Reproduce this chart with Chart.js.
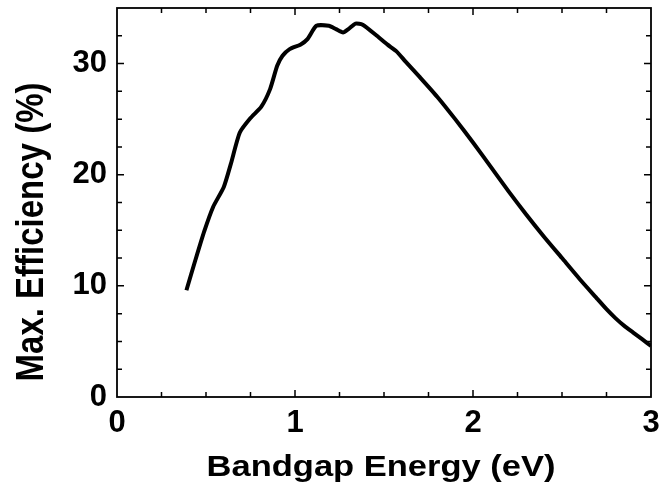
<!DOCTYPE html>
<html>
<head>
<meta charset="utf-8">
<script src="https://cdn.jsdelivr.net/npm/chart.js@4/dist/chart.umd.min.js"></script>
<style>
  html, body { margin: 0; padding: 0; background: #fff; }
  #wrap { width: 659px; height: 486px; }
</style>
</head>
<body>
<div id="wrap"><canvas id="myChart" width="659" height="486"></canvas></div>
<script>
// bandgap energy (eV) and max efficiency (%)
const energy = [0.39, 0.44, 0.49, 0.54, 0.60, 0.64, 0.69, 0.75, 0.81, 0.86, 0.90, 0.93, 0.97,
  1.03, 1.07, 1.12, 1.19, 1.23, 1.27, 1.30, 1.34, 1.38, 1.46, 1.52, 1.57, 1.62, 1.70, 1.80,
  1.90, 2.00, 2.10, 2.20, 2.30, 2.40, 2.50, 2.60, 2.70, 2.75, 2.80, 2.85, 2.90, 2.95, 3.00];
const efficiency = [9.6, 12.3, 14.9, 17.1, 18.9, 21.0, 23.8, 25.1, 26.1, 27.7, 29.8, 30.7, 31.3,
  31.7, 32.2, 33.4, 33.4, 33.1, 32.8, 33.1, 33.6, 33.5, 32.5, 31.7, 31.1, 30.2, 28.8, 27.0,
  25.0, 22.9, 20.7, 18.5, 16.4, 14.4, 12.5, 10.6, 8.8, 7.9, 7.1, 6.4, 5.8, 5.2, 4.6];

const xTicks = [0, 1, 2, 3];
const yTicks = [0, 10, 20, 30];
const xMinorStep = 0.25;
const yMinorStep = 2.5;
const xTitle = 'Bandgap Energy (eV)';
const yTitle = 'Max. Efficiency (%)';

const FONT = '"Liberation Sans", Arial, sans-serif';

// frame, inward ticks and axis titles
const framePlugin = {
  id: 'frame',
  afterDraw(chart) {
    const { ctx, chartArea: a, scales } = chart;
    const xs = scales.x, ys = scales.y;
    ctx.save();
    ctx.strokeStyle = '#000';
    ctx.lineWidth = 1.8;
    ctx.strokeRect(a.left, a.top, a.right - a.left, a.bottom - a.top);

    ctx.lineWidth = 1.5;
    ctx.beginPath();
    for (let v = xs.min; v <= xs.max + 1e-9; v += xMinorStep) {
      if (v <= xs.min + 1e-9 || v >= xs.max - 1e-9) continue;
      const len = Math.abs(v - Math.round(v)) < 1e-9 ? 7 : 5;
      const px = xs.getPixelForValue(v);
      ctx.moveTo(px, a.bottom); ctx.lineTo(px, a.bottom - len);
      ctx.moveTo(px, a.top); ctx.lineTo(px, a.top + len);
    }
    for (let v = ys.min; v <= ys.max + 1e-9; v += yMinorStep) {
      if (v <= ys.min + 1e-9 || v >= ys.max - 1e-9) continue;
      const len = Math.abs(v / 10 - Math.round(v / 10)) < 1e-9 ? 7 : 5;
      const py = ys.getPixelForValue(v);
      ctx.moveTo(a.left, py); ctx.lineTo(a.left + len, py);
      ctx.moveTo(a.right, py); ctx.lineTo(a.right - len, py);
    }
    ctx.stroke();

    ctx.fillStyle = '#000';
    ctx.font = 'bold 30px ' + FONT;
    ctx.textAlign = 'center';
    ctx.textBaseline = 'alphabetic';
    // x title, slightly widened like the original
    ctx.save();
    ctx.translate(381, 476);
    ctx.scale(1.15, 1);
    ctx.fillText(xTitle, 0, 0);
    ctx.restore();
    // y title
    ctx.save();
    ctx.font = 'bold 33px ' + FONT;
    ctx.translate(43, 232);
    ctx.scale(1.15, 1);
    ctx.rotate(-Math.PI / 2);
    ctx.fillText(yTitle, 0, 0);
    ctx.restore();
    ctx.restore();
  }
};

const ctx = document.getElementById('myChart').getContext('2d');
const myChart = new Chart(ctx, {
  type: 'line',
  data: {
    datasets: [{
      data: energy.map((e, i) => ({ x: e, y: efficiency[i] })),
      borderColor: '#000',
      borderWidth: 4,
      pointRadius: 0,
      tension: 0.2,
      fill: false
    }]
  },
  options: {
    responsive: false,
    animation: false,
    layout: { padding: { top: 8, right: 8, left: 0, bottom: 0 } },
    plugins: { legend: { display: false }, tooltip: { enabled: false } },
    scales: {
      x: {
        type: 'linear',
        min: 0,
        max: 3,
        grid: { display: false, drawTicks: false },
        border: { display: false },
        afterBuildTicks: s => { s.ticks = xTicks.map(v => ({ value: v })); },
        afterFit: s => { s.height = 89; s.paddingLeft = 0; s.paddingRight = 0; },
        ticks: { color: '#000', padding: 8, maxRotation: 0, font: { family: FONT, size: 31, weight: 'bold' } }
      },
      y: {
        min: 0,
        max: 35,
        grid: { display: false, drawTicks: false },
        border: { display: false },
        afterBuildTicks: s => { s.ticks = yTicks.map(v => ({ value: v })); },
        afterFit: s => { s.width = 117; s.paddingTop = 0; s.paddingBottom = 0; },
        ticks: { color: '#000', padding: 10, font: { family: FONT, size: 31, weight: 'bold' } }
      }
    }
  },
  plugins: [framePlugin]
});
</script>
</body>
</html>
